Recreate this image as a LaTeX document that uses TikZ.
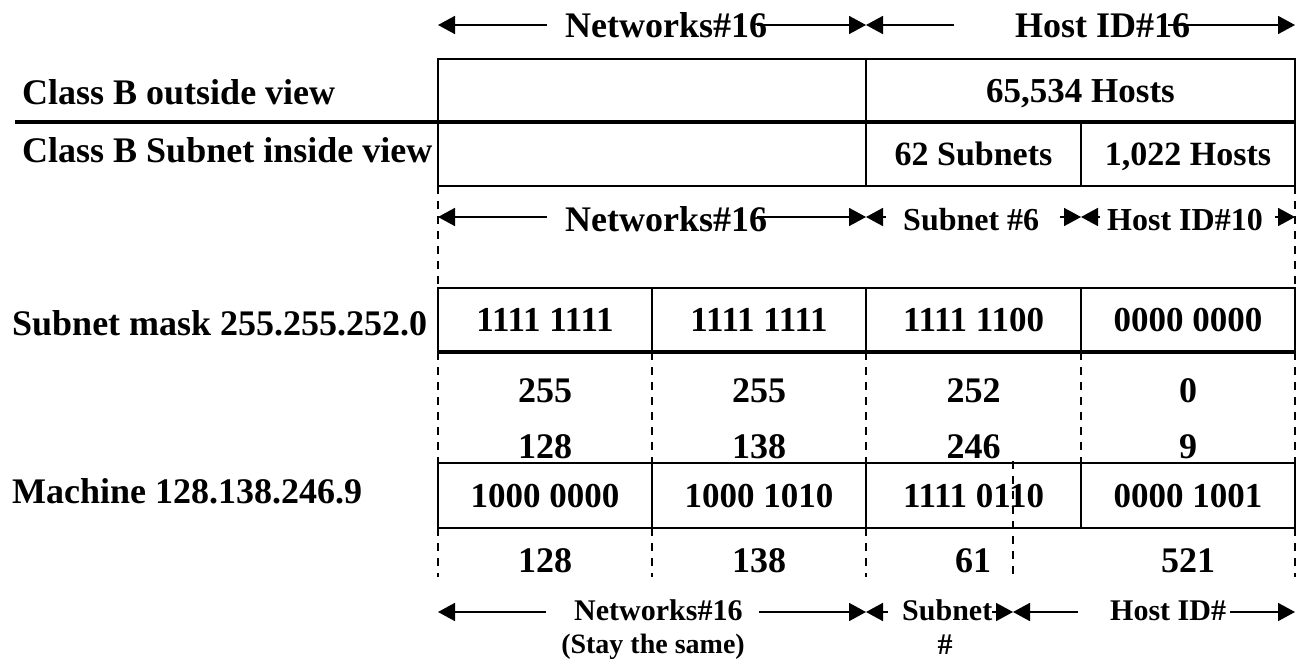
\documentclass[tikz,border=0pt]{standalone}
\usepackage{fontspec}
\setmainfont{Liberation Serif}
\usetikzlibrary{arrows.meta}

\tikzset{
  f36/.style={font=\bfseries\fontsize{36}{40}\selectfont, text height=24pt, text depth=0pt, inner sep=0pt},
  f35/.style={font=\bfseries\fontsize{35}{39}\selectfont, text height=23.4pt, text depth=0pt, inner sep=0pt},
  f34/.style={font=\bfseries\fontsize{34}{38}\selectfont, text height=22.7pt, text depth=0pt, inner sep=0pt},
  f32/.style={font=\bfseries\fontsize{32}{36}\selectfont, text height=21.4pt, text depth=0pt, inner sep=0pt},
  f30/.style={font=\bfseries\fontsize{30}{34}\selectfont, text height=20pt, text depth=0pt, inner sep=0pt},
  f28/.style={font=\bfseries\fontsize{28}{32}\selectfont, text height=18.7pt, text depth=0pt, inner sep=0pt},
  cell/.style={draw, line width=2pt, minimum height=64pt},
  heavy/.style={line width=3.2pt},
  dashline/.style={line width=1.6pt, dash pattern=on 8pt off 7pt},
  arr/.style={line width=1.8pt, -{Triangle[length=17pt,width=18pt]}},
}

\begin{document}
\begin{tikzpicture}[x=1pt, y=-1pt]
\useasboundingbox (0,0) rectangle (1297,660);

% ---------- column boundaries used by the span arrows ----------
\coordinate (t0) at (438,25);  \coordinate (t2) at (866,25);  \coordinate (t4) at (1295,25);
\coordinate (m0) at (438,217); \coordinate (m2) at (866,217); \coordinate (m3) at (1081,217); \coordinate (m4) at (1295,217);
\coordinate (b0) at (438,612); \coordinate (b2) at (866,612); \coordinate (b3) at (1013,612); \coordinate (b4) at (1295,612);

% ---------- class B views ----------
\node[cell, minimum width=428pt, minimum height=63pt] (outnet) at (652,90.5) {};
\node[cell, f35, minimum width=429pt, minimum height=63pt] (outhost) at (1080.5,90.5) {65,534 Hosts};
\node[cell, minimum width=428pt] (innet) at (652,154) {};
\node[cell, f34, minimum width=215pt] (insub) at (973.5,154) {62 Subnets};
\node[cell, f34, minimum width=214pt] (inhost) at (1188,154) {1,022 Hosts};

\coordinate (u0) at (15,122);
\coordinate (u1) at (1295,122);
\draw[heavy] (u0) -- (u1);

\node[f36, anchor=west] (lout) at (22,93) {Class B outside view};
\node[f36, anchor=west] (lin) at (22,151) {Class B Subnet inside view};

% ---------- top span arrows ----------
\node[f36, anchor=west] (N1) at (565,26) {Networks\#16};
\node[f36, anchor=west] (H1) at (1015,26) {Host ID\#16};
\draw[arr] ([xshift=-18pt]N1.west |- t0) -- (t0);
\draw[arr] ([xshift=-10pt]N1.east |- t0) -- (t2);
\draw[arr] ([xshift=-61pt]H1.west |- t0) -- (t2);
\draw[arr] ([xshift=-22pt]H1.east |- t0) -- (t4);

% ---------- dashed guides between the views and the mask ----------
\coordinate (d0a) at (438,186);  \coordinate (d0b) at (438,288);
\coordinate (d4a) at (1295,186); \coordinate (d4b) at (1295,288);
\draw[dashline] (d0a) -- (d0b);
\draw[dashline] (d4a) -- (d4b);

% ---------- middle span arrows ----------
\node[f36, anchor=west] (N2) at (565,220) {Networks\#16};
\node[f32, anchor=west] (S2) at (903,220) {Subnet \#6};
\node[f32, anchor=west] (H2) at (1107,220) {Host ID\#10};
\draw[arr] ([xshift=-18pt]N2.west |- m0) -- (m0);
\draw[arr] ([xshift=-10pt]N2.east |- m0) -- (m2);
\draw[arr] ([xshift=-17pt]S2.west |- m0) -- (m2);
\draw[arr] ([xshift=21pt]S2.east |- m0) -- (m3);
\draw[arr] ([xshift=-7pt]H2.west |- m0) -- (m3);
\draw[arr] ([xshift=12pt]H2.east |- m0) -- (m4);

% ---------- subnet mask ----------
\node[f36, anchor=west] (lmask) at (12,323) {Subnet mask 255.255.252.0};
\node[cell, f35, minimum width=214pt] (mk1) at (545,320) {1111 1111};
\node[cell, f35, minimum width=214pt] (mk2) at (759,320) {1111 1111};
\node[cell, f35, minimum width=215pt] (mk3) at (973.5,320) {1111 1100};
\node[cell, f35, minimum width=214pt] (mk4) at (1188,320) {0000 0000};
\coordinate (mb0) at (438,352); \coordinate (mb1) at (1295,352);
\draw[heavy] (mb0) -- (mb1);

% ---------- dashed guides between mask and machine ----------
\foreach \x/\n in {438/a, 652/b, 866/c, 1081/d, 1295/e} {
  \coordinate (g\n1) at (\x,352);
  \coordinate (g\n2) at (\x,463);
  \draw[dashline] (g\n1) -- (g\n2);
}

\node[f36] (v1) at (545,390) {255};
\node[f36] (v2) at (759,390) {255};
\node[f36] (v3) at (973.5,390) {252};
\node[f36] (v4) at (1188,390) {0};

\node[f36] (w1) at (545,446) {128};
\node[f36] (w2) at (759,446) {138};
\node[f36] (w3) at (973.5,446) {246};
\node[f36] (w4) at (1188,446) {9};

% ---------- machine address ----------
\node[f36, anchor=west] (lmach) at (12,491) {Machine 128.138.246.9};
\node[cell, f35, minimum width=214pt, minimum height=65pt] (ma1) at (545,495.5) {1000 0000};
\node[cell, f35, minimum width=214pt, minimum height=65pt] (ma2) at (759,495.5) {1000 1010};
\node[cell, f35, minimum width=215pt, minimum height=65pt] (ma3) at (973.5,495.5) {1111 0110};
\node[cell, f35, minimum width=214pt, minimum height=65pt] (ma4) at (1188,495.5) {0000 1001};

% subnet / host split inside the third byte
\coordinate (s1) at (1013,461);
\coordinate (s2) at (1013,577);
\draw[dashline] (s1) -- (s2);

\foreach \x/\n in {438/a, 652/b, 866/c, 1295/e} {
  \coordinate (h\n1) at (\x,528);
  \coordinate (h\n2) at (\x,577);
  \draw[dashline] (h\n1) -- (h\n2);
}

\node[f36] (r1) at (545,560) {128};
\node[f36] (r2) at (759,560) {138};
\node[f36] (r3) at (973,560) {61};
\node[f36] (r4) at (1188,560) {521};

% ---------- bottom span arrows ----------
\node[f30, anchor=west] (N3) at (574,610) {Networks\#16};
\node[f28] (stay) at (653,644) {(Stay the same)};
\node[f30, anchor=west] (S3) at (902,610) {Subnet};
\node[f30] (hash) at (945,644) {\#};
\node[f30, anchor=west] (H3) at (1110,610) {Host ID\#};
\draw[arr] ([xshift=-28pt]N3.west |- b0) -- (b0);
\draw[arr] ([xshift=16pt]N3.east |- b0) -- (b2);
\draw[arr] ([xshift=-14pt]S3.west |- b0) -- (b2);
\draw[arr] (S3.east |- b0) -- (b3);
\draw[arr] ([xshift=-32pt]H3.west |- b0) -- (b3);
\draw[arr] ([xshift=4pt]H3.east |- b0) -- (b4);
\end{tikzpicture}
\end{document}
